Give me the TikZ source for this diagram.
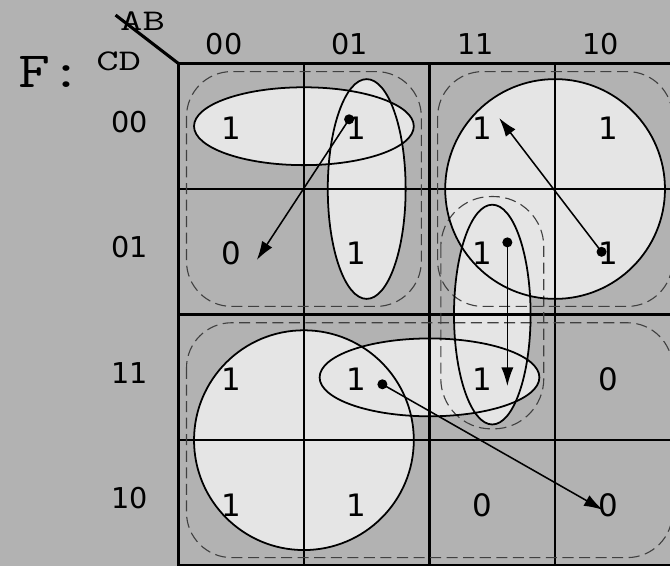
\documentclass[tikz,border=0pt]{standalone}
\usepackage{fontspec}
\usepackage{graphicx}
\usepackage{tikz}
\usetikzlibrary{arrows.meta}
\newfontfamily\digitfont{DejaVu Sans}
\definecolor{bggray}{gray}{0.7}
\definecolor{fillgray}{gray}{0.9}
\definecolor{dashgray}{gray}{0.25}
\pgfdeclarelayer{bglayer}
\pgfdeclarelayer{filllayer}
\pgfdeclarelayer{edgelayer}
\pgfdeclarelayer{nodelayer}
\pgfsetlayers{bglayer,filllayer,edgelayer,nodelayer,main}
\tikzstyle{none}=[inner sep=0pt]
\tikzstyle{bit}=[inner sep=0pt, font=\digitfont\fontsize{14}{14}\selectfont]
\tikzstyle{axislabel}=[inner sep=0pt, font=\digitfont\fontsize{13}{13}\selectfont]
\tikzstyle{varname}=[inner sep=0pt, font=\ttfamily\fontsize{13.6}{14}\selectfont]
\tikzstyle{fname}=[inner sep=0pt, font=\ttfamily\fontsize{23}{23}\selectfont]
\tikzstyle{blob}=[circle, fill=black, inner sep=0pt, minimum size=0.16cm]
\tikzstyle{ring}=[draw=black, line width=0.8pt]
\tikzstyle{block}=[draw=dashgray, line width=0.5pt, dash pattern=on 5pt off 2.5pt, rounded corners=0.72cm]
\tikzstyle{pointer}=[-{Latex[length=8.5pt,width=5.5pt]}, line width=0.7pt]
\tikzstyle{gridline}=[draw=black, line width=1pt]
\tikzstyle{outerline}=[draw=black, line width=1.4pt]

\begin{document}
\begin{tikzpicture}
	\begin{pgfonlayer}{bglayer}
		\fill [bggray] (-2.84, -8.0) rectangle (7.83, 1.01);
	\end{pgfonlayer}
	\useasboundingbox (-2.84, -8.0) rectangle (7.83, 1.01);
	\begin{pgfonlayer}{filllayer}
		\fill [fillgray] (2, -1) ellipse (1.75 and 0.62);
		\fill [fillgray] (3, -2) ellipse (0.62 and 1.75);
		\fill [fillgray] (6, -2) circle (1.75);
		\fill [fillgray] (5, -4) ellipse (0.61 and 1.75);
		\fill [fillgray] (4, -5) ellipse (1.75 and 0.62);
		\fill [fillgray] (2, -6) circle (1.75);
	\end{pgfonlayer}
	\begin{pgfonlayer}{nodelayer}
		\node [style=fname] (0) at (-2.03, -0.14) {\scalebox{1.22}[1]{F:}};
		\node [style=varname] (1) at (-0.57, 0.68) {\scalebox{1.45}[1]{AB}};
		\node [style=varname] (2) at (-0.95, 0.035) {\scalebox{1.45}[1]{CD}};
		\node [style=axislabel] (3) at (0.73, 0.31) {00};
		\node [style=axislabel] (4) at (2.73, 0.31) {01};
		\node [style=axislabel] (5) at (4.73, 0.31) {11};
		\node [style=axislabel] (6) at (6.73, 0.31) {10};
		\node [style=axislabel] (7) at (-0.77, -0.93) {00};
		\node [style=axislabel] (8) at (-0.77, -2.93) {01};
		\node [style=axislabel] (9) at (-0.77, -4.93) {11};
		\node [style=axislabel] (10) at (-0.77, -6.92) {10};
		\node [style=bit] (11) at (0.84, -1.03) {1};
		\node [style=bit] (12) at (2.84, -1.03) {1};
		\node [style=bit] (13) at (4.84, -1.03) {1};
		\node [style=bit] (14) at (6.84, -1.03) {1};
		\node [style=bit] (15) at (0.84, -3.03) {0};
		\node [style=bit] (16) at (2.84, -3.03) {1};
		\node [style=bit] (17) at (4.84, -3.03) {1};
		\node [style=bit] (18) at (6.84, -3.03) {1};
		\node [style=bit] (19) at (0.84, -5.03) {1};
		\node [style=bit] (20) at (2.84, -5.03) {1};
		\node [style=bit] (21) at (4.84, -5.03) {1};
		\node [style=bit] (22) at (6.84, -5.03) {0};
		\node [style=bit] (23) at (0.84, -7.03) {1};
		\node [style=bit] (24) at (2.84, -7.03) {1};
		\node [style=bit] (25) at (4.84, -7.03) {0};
		\node [style=bit] (26) at (6.84, -7.03) {0};
		\node [style=blob] (27) at (2.72, -0.89) {};
		\node [style=blob] (28) at (6.74, -3.0) {};
		\node [style=blob] (29) at (5.24, -2.85) {};
		\node [style=blob] (30) at (3.25, -5.11) {};
		\node [style=none] (31) at (1.25, -3.13) {};
		\node [style=none] (32) at (5.11, -0.87) {};
		\node [style=none] (33) at (5.24, -5.14) {};
		\node [style=none] (34) at (6.76, -7.11) {};
		\node [style=none] (35) at (-1.0, 0.77) {};
		\node [style=none] (36) at (0, 0) {};
	\end{pgfonlayer}
	\begin{pgfonlayer}{edgelayer}
		\draw [style=gridline] (0, -8) grid [step=2] (8, 0);
		\draw [style=outerline] (0, 0) rectangle (8, -8);
		\draw [style=outerline] (35.center) to (36.center);
		\draw [style=block] (0.13, -0.13) rectangle (3.87, -3.87);
		\draw [style=block] (4.13, -0.13) rectangle (7.87, -3.87);
		\draw [style=block] (0.13, -4.13) rectangle (7.87, -7.87);
		\draw [style=block, rounded corners=0.8cm] (4.18, -2.12) rectangle (5.82, -5.82);
		\draw [style=ring] (2, -1) ellipse (1.75 and 0.62);
		\draw [style=ring] (3, -2) ellipse (0.62 and 1.75);
		\draw [style=ring] (6, -2) circle (1.75);
		\draw [style=ring] (5, -4) ellipse (0.61 and 1.75);
		\draw [style=ring] (4, -5) ellipse (1.75 and 0.62);
		\draw [style=ring] (2, -6) circle (1.75);
		\draw [style=pointer] (27.center) to (31.center);
		\draw [style=pointer] (28.center) to (32.center);
		\draw [style=pointer] (29.center) to (33.center);
		\draw [style=pointer] (30.center) to (34.center);
	\end{pgfonlayer}
\end{tikzpicture}
\end{document}
